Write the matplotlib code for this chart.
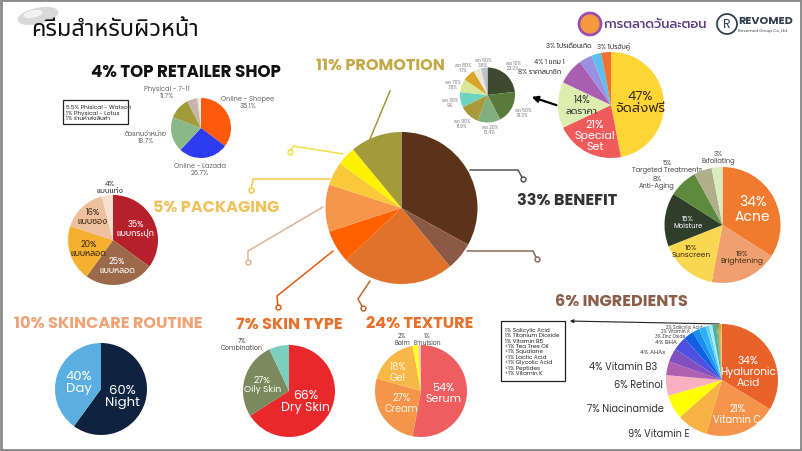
import matplotlib
matplotlib.use("Agg")
import matplotlib.pyplot as plt
from matplotlib.patches import Circle, Ellipse, Rectangle

plt.rcParams['font.family'] = ['Poppins', 'Prompt', 'DejaVu Sans']

# ---- data ----
overview_names = ["BENEFIT", "INGREDIENTS", "TEXTURE", "SKIN TYPE", "SKINCARE ROUTINE",
                  "PACKAGING", "TOP RETAILER SHOP", "PROMOTION"]
overview_vals = [33, 6, 24, 7, 10, 5, 4, 11]

retail_names = ["Online - Shopee", "Online - Lazada", "ตัวแทนจำหน่าย", "Physical - 7-11",
                "Phisical - Watson", "Physical - Lotus", "ร้านค้าส่งสินค้า"]
retail_vals = [35.1, 26.7, 18.7, 11.7, 5.5, 1, 1]

promo_names = ["จัดส่งฟรี", "Special\nSet", "ลดราคา", "ราคาสมาชิก", "1 แถม 1", "โปรเดือนเกิด", "โปรจับคู่"]
promo_vals = [47, 21, 14, 8, 4, 3, 3]

discount_names = ["ลด 10%", "ลด 50%", "ลด 20%", "ลด 90%", "ลด 30%", "ลด 70%", "ลด 80%", "", "ลด 60%"]
discount_vals = [23.2, 19.2, 13.4, 11.9, 9, 7.8, 7.1, 4.6, 3.8]

benefit_names = ["Acne", "Brightening", "Sunscreen", "Moisture", "Anti-Aging",
                 "Targeted Treatments", "Exfoliating"]
benefit_vals = [34, 19, 16, 15, 8, 5, 3]

ingr_names = ["Hyaluronic\nAcid", "Vitamin C", "Vitamin E", "Niacinamide", "Retinol", "Vitamin B3",
              "AHAs", "BHA", "Zinc Oxide", "Vitamin A", "Salicylic Acid"]
ingr_vals = [34, 21, 9, 7, 6, 4, 4, 4, 3, 2, 2]
minor_names = ["Salicylic Acid", "Titanium Dioxide", "Vitamin B5", "Tea Tree Oil", "Squalane",
               "Lactic Acid", "Glycolic Acid", "Peptides", "Vitamin K"]
minor_vals = [1, 1, 1, 0.3, 0.3, 0.3, 0.3, 0.3, 0.3]
minor_tags = ["1%", "1%", "1%", "<1%", "<1%", "<1%", "<1%", "<1%", "<1%"]

pack_names = ["แบบกระปุก", "แบบหลอด", "แบบหลอด", "แบบซอง", "แบบแท่ง"]
pack_vals = [35, 25, 20, 16, 4]

routine_names = ["Night", "Day"]
routine_vals = [60, 40]

skin_names = ["Dry Skin", "Oily Skin", "Combination"]
skin_vals = [66, 27, 7]

texture_names = ["Serum", "Cream", "Gel", "Balm", "Emulsion"]
texture_vals = [54, 27, 18, 2, 1]

W, H = 802, 452
fig = plt.figure(figsize=(W / 100, H / 100), dpi=100)
bg = fig.add_axes([0, 0, 1, 1])
bg.set_xlim(0, W)
bg.set_ylim(H, 0)
bg.axis('off')
bg.add_patch(Rectangle((1, 1), W - 2, H - 2, fill=False, ec='#8a8a8a', lw=2))


def pct(v):
    return ("%g" % v) + "%"


def pie_at(cx, cy, r, vals, colors, labels=None, dist=0.55):
    # pie placed by its centre and radius in pixels
    ax = fig.add_axes([(cx - r) / W, 1 - (cy + r) / H, 2 * r / W, 2 * r / H])
    wedges, texts = ax.pie(vals, colors=colors, startangle=90, counterclock=False,
                           labels=labels, labeldistance=dist,
                           wedgeprops=dict(linewidth=0),
                           textprops=dict(ha='center', va='center'))
    ax.set_xlim(-1, 1)
    ax.set_ylim(-1, 1)
    return texts


def style(texts, sizes, colors):
    for t, s, c in zip(texts, sizes, colors):
        t.set_fontsize(s)
        t.set_color(c)
        t.set_linespacing(1.0)


def connector(pts, color):
    xs = [p[0] for p in pts]
    ys = [p[1] for p in pts]
    bg.plot(xs, ys, color=color, lw=1.1, solid_capstyle='round')
    bg.plot(xs[-1], ys[-1], 'o', ms=3.5, mfc='white', mec=color, mew=1.1)


# ---- header ----
bg.add_patch(Ellipse((38, 17), 40, 15, angle=-12, color='#d9d9d9'))
bg.add_patch(Ellipse((33, 15), 18, 6, angle=-12, color='#f2f2f2'))
bg.text(31, 30, "ครีมสำหรับผิวหน้า", fontsize=17, family=['Noto Sans Thai', 'Prompt'],
        va='center', ha='left', color='#111111')
bg.add_patch(Circle((590, 25), 11, fc='#f39a3c', ec='#9b4fb0', lw=2))
bg.text(604, 25, "การตลาดวันละตอน", fontsize=9.2, family=['Prompt'], va='center',
        ha='left', color='#5c3b80', fontweight='medium')
bg.add_patch(Circle((727, 25), 10, fc='white', ec='#33414f', lw=1.3))
bg.text(727, 25.5, "R", fontsize=9, va='center', ha='center', color='#33414f')
bg.text(738, 21, "REVOMED", fontsize=8, va='center', ha='left', color='#33414f', fontweight='bold')
bg.text(738, 31, "Revomed Group Co.,Ltd.", fontsize=3, va='center', ha='left', color='#33414f')

# ---- central overview pie ----
overview_colors = ['#5b3319', '#8c5a44', '#e0722a', '#ff6000', '#f7954a', '#f9c93a', '#fff200', '#a39a3b']
pie_at(401.5, 209, 76, overview_vals, overview_colors)
connector([(470, 171), (518, 171), (523, 180)], '#555555')
connector([(467, 252), (533, 252), (537, 260)], '#8c6a5a')
connector([(370, 282), (358, 300), (363, 309)], '#b8662a')
connector([(333, 252), (277, 297), (278, 308)], '#e05a10')
connector([(323, 208), (248, 252), (248, 263)], '#e2b294')
connector([(330, 180), (253, 180), (251, 191)], '#f5c842')
connector([(343, 155), (293, 147), (290, 153)], '#f0e040')
bg.plot([370, 390], [140, 92], color='#a39a3b', lw=1.1)

# ---- section titles ----
tkw = dict(fontsize=11.6, fontweight='bold', va='center', ha='center')
bg.text(186, 73, pct(overview_vals[6]) + " " + overview_names[6], color='#111111', fontsize=12,
        fontweight='bold', va='center', ha='center')
bg.text(380, 66, pct(overview_vals[7]) + " " + overview_names[7], color='#c4a746', **tkw)
bg.text(567, 201, pct(overview_vals[0]) + " " + overview_names[0], color='#333333', **tkw)
bg.text(216, 208, pct(overview_vals[5]) + " " + overview_names[5], color='#efc25e', **tkw)
bg.text(108, 324, pct(overview_vals[4]) + " " + overview_names[4], color='#efa377', **tkw)
bg.text(289, 325, pct(overview_vals[3]) + " " + overview_names[3], color='#e8702a', **tkw)
bg.text(420, 324, pct(overview_vals[2]) + " " + overview_names[2], color='#e8702a', **tkw)
bg.text(621, 302, pct(overview_vals[1]) + " " + overview_names[1], color='#8b5e4a', **tkw)

# ---- top retailer ----
retail_colors = ['#ff5a0c', '#2e3cf0', '#8ab888', '#a39a3c', '#c8b4a8', '#e8e0d8', '#f8f0e8']
pie_at(201, 129, 30, retail_vals, retail_colors)
gkw = dict(fontsize=4.8, color='#666666', va='center', ha='center', linespacing=1.1)
bg.text(248, 103, retail_names[0] + "\n" + pct(retail_vals[0]), **gkw)
bg.text(200, 170, retail_names[1] + "\n" + pct(retail_vals[1]), **gkw)
bg.text(146, 138, retail_names[2] + "\n" + pct(retail_vals[2]), **gkw)
bg.text(167, 93, retail_names[3] + "\n" + pct(retail_vals[3]), **gkw)
bg.add_patch(Rectangle((63, 101), 65, 24, fill=False, ec='#222222', lw=0.9))
bg.text(66, 113, "\n".join(pct(v) + " " + n for v, n in zip(retail_vals[4:], retail_names[4:])),
        fontsize=4.2, va='center', ha='left', color='#222222', linespacing=1.1)

# ---- promotion ----
promo_colors = ['#fdd535', '#ef5b5b', '#dcedb0', '#a85fb0', '#9b8fe0', '#5bc0f0', '#f07030']
inner = [pct(v) + "\n" + n for v, n in zip(promo_vals[:3], promo_names[:3])] + [""] * 4
txt = pie_at(611, 106, 53, promo_vals, promo_colors, inner, 0.55)
style(txt[:3], [9.5, 8, 7], ['#3a2a10', 'white', '#333333'])
txt[1].set_position((-0.3, -0.57))
okw = dict(fontsize=4.8, color='#333333', va='center')
bg.text(597, 46, pct(promo_vals[6]) + " " + promo_names[6], ha='left', **okw)
bg.text(592, 47, pct(promo_vals[5]) + " " + promo_names[5], ha='right', **okw)
bg.text(549, 62, pct(promo_vals[4]) + " " + promo_names[4], ha='center', **okw)
bg.text(540, 72, pct(promo_vals[3]) + " " + promo_names[3], ha='center', **okw)
bg.annotate("", xy=(529, 97), xytext=(559, 107),
            arrowprops=dict(arrowstyle='-|>', color='black', lw=1.6, mutation_scale=9))

discount_colors = ['#3d4a2f', '#5a7a3a', '#7fae7f', '#a89a3a', '#6fd3c0', '#d6e89a',
                   '#d9a428', '#eee6d6', '#b9c3cc']
pie_at(487.5, 96, 27.5, discount_vals, discount_colors)
dpos = [(513, 66), (523, 113), (490, 130), (462, 124), (450, 103), (453, 85), (463, 68), None, (483, 63)]
for n, v, p in zip(discount_names, discount_vals, dpos):
    if p:
        bg.text(p[0], p[1], n + "\n" + pct(v), fontsize=3.3, color='#777777',
                va='center', ha='center', linespacing=1.0)

# ---- benefit ----
benefit_colors = ['#f07b2e', '#f0a070', '#f9d750', '#2f3e2a', '#5e8a3e', '#b0b088', '#d8ecc0']
inner = [pct(v) + "\n" + n for v, n in zip(benefit_vals[:4], benefit_names[:4])] + [""] * 3
txt = pie_at(722.5, 226, 58, benefit_vals, benefit_colors, inner, 0.6)
style(txt[:4], [10, 5.3, 5.3, 5], ['white', '#3a2a10', '#3a2a10', 'white'])
txt[0].set_position((0.52, 0.28))
txt[1].set_position((0.34, -0.55))
txt[2].set_position((-0.54, -0.45))
bkw = dict(fontsize=4.8, color='#444444', va='center', ha='center', linespacing=1.0)
bg.text(718, 158, pct(benefit_vals[6]) + "\n" + benefit_names[6], **bkw)
bg.text(667, 167, pct(benefit_vals[5]) + "\n" + benefit_names[5], **bkw)
bg.text(657, 183, pct(benefit_vals[4]) + "\n" + benefit_names[4], **bkw)

# ---- ingredients ----
ingr_colors = ['#e8622a', '#f5944a', '#f7b244', '#ffff00', '#f8b0c0', '#b060b0', '#8050c0',
               '#5050e0', '#1060e0', '#1890f0', '#30b0f0']
minor_colors = ['#60d0f0', '#a8e8f0', '#40b0a0', '#60a070', '#809050', '#a0a050',
                '#c0a040', '#e0a040', '#f0c060']
inner = [pct(v) + "\n" + n for v, n in zip(ingr_vals[:2], ingr_names[:2])] + [""] * (len(ingr_vals) - 2 + len(minor_vals))
txt = pie_at(722, 381, 56, ingr_vals + minor_vals, ingr_colors + minor_colors, inner, 0.6)
style(txt[:2], [7.6, 7], ['white', 'white'])
txt[0].set_position((0.47, 0.16))
txt[1].set_position((0.27, -0.6))
ikw = dict(color='#333333', va='center', ha='right')
bg.text(690, 435, pct(ingr_vals[2]) + " " + ingr_names[2], fontsize=7, **ikw)
bg.text(664, 410, pct(ingr_vals[3]) + " " + ingr_names[3], fontsize=7, **ikw)
bg.text(663, 386, pct(ingr_vals[4]) + " " + ingr_names[4], fontsize=7, **ikw)
bg.text(657, 368, pct(ingr_vals[5]) + " " + ingr_names[5], fontsize=7, **ikw)
bg.text(665, 353, pct(ingr_vals[6]) + " " + ingr_names[6], fontsize=4.3, **ikw)
bg.text(677, 343, pct(ingr_vals[7]) + " " + ingr_names[7], fontsize=4.3, **ikw)
bg.text(685, 337, pct(ingr_vals[8]) + " " + ingr_names[8], fontsize=3.2, **ikw)
bg.text(690, 332, pct(ingr_vals[9]) + " " + ingr_names[9], fontsize=3.2, **ikw)
bg.text(703, 328, pct(ingr_vals[10]) + " " + ingr_names[10], fontsize=3.2, **ikw)
bg.add_patch(Rectangle((501, 322), 64, 60, fill=False, ec='#222222', lw=0.9))
bg.text(505, 352, "\n".join(t + " " + n for t, n in zip(minor_tags, minor_names)),
        fontsize=4.1, va='center', ha='left', color='#222222', linespacing=1.12)
bg.annotate("", xy=(567, 322), xytext=(722, 325),
            arrowprops=dict(arrowstyle='-|>', color='#222222', lw=0.8, mutation_scale=5))

# ---- packaging ----
pack_colors = ['#b5202a', '#9c6a4a', '#f5b030', '#efc0a0', '#f5e0d0']
inner = [pct(v) + "\n" + n for v, n in zip(pack_vals[:4], pack_names[:4])] + [""]
txt = pie_at(113, 241, 45, pack_vals, pack_colors, inner, 0.57)
style(txt[:4], [6] * 4, ['white', 'white', '#3a2a10', '#3a2a10'])
txt[3].set_position((-0.46, 0.53))
bg.text(110, 188, pct(pack_vals[4]) + "\n" + pack_names[4], fontsize=5.3, color='#333333',
        va='center', ha='center', linespacing=1.0)

# ---- skincare routine ----
txt = pie_at(101, 390, 46, routine_vals, ['#0f2340', '#5aafe0'],
             [pct(v) + "\n" + n for v, n in zip(routine_vals, routine_names)], 0.5)
style(txt, [9.5, 9.5], ['white', 'white'])

# ---- skin type ----
txt = pie_at(289, 392, 46, skin_vals, ['#e8282a', '#7a8a5e', '#7ccfbf'],
             [pct(v) + "\n" + n for v, n in zip(skin_vals[:2], skin_names[:2])] + [""], 0.5)
style(txt[:2], [9, 6.5], ['white', 'white'])
txt[0].set_position((0.36, -0.22))
txt[1].set_position((-0.58, 0.15))
bg.text(242, 345, pct(skin_vals[2]) + "\n" + skin_names[2], fontsize=4.6, color='#444444',
        va='center', ha='center', linespacing=1.0)

# ---- texture ----
txt = pie_at(421, 392, 46, texture_vals, ['#ee5e60', '#f5954a', '#f8b848', '#ffff20', '#f8c0c0'],
             [pct(v) + "\n" + n for v, n in zip(texture_vals[:3], texture_names[:3])] + ["", ""], 0.5)
style(txt[:3], [8, 7, 7], ['white', '#fff4e0', '#fff4e0'])
txt[2].set_position((-0.5, 0.42))
bg.text(410, 340, pct(texture_vals[3]) + "\n" + texture_names[3], fontsize=4.4,
        color='#444444', va='center', ha='right', linespacing=1.0, multialignment='center')
bg.text(413, 340, pct(texture_vals[4]) + "\n" + texture_names[4], fontsize=4.4,
        color='#444444', va='center', ha='left', linespacing=1.0, multialignment='center')

fig.savefig("out.png", dpi=100)
